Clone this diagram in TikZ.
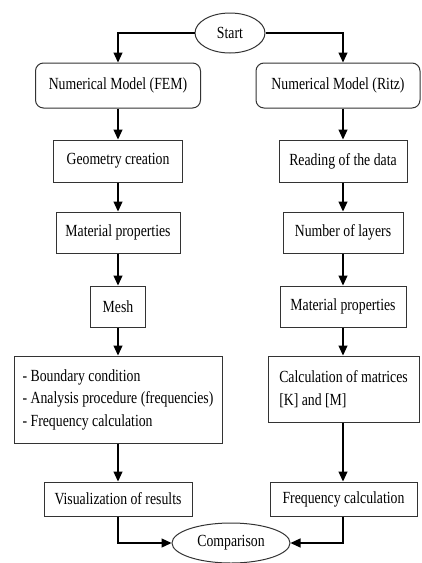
\documentclass[tikz,border=0pt]{standalone}
\usepackage{fontspec}
\setmainfont[FakeStretch=0.81]{Liberation Serif}
\usetikzlibrary{shapes.geometric,arrows.meta}
\begin{document}
\begin{tikzpicture}[x=1pt,y=-1pt,
  every node/.style={font=\fontsize{17}{22.5}\selectfont, inner sep=0pt, align=center},
  box/.style={draw=black!80, line width=1pt, rectangle},
  rbox/.style={box, rounded corners=8pt},
  oval/.style={draw=black!80, line width=1pt, ellipse},
  flow/.style={line width=1.2pt, -{Triangle[width=9pt,length=10pt]}}]
\useasboundingbox (0,0) rectangle (421,563);

% start and end ovals
\node[oval, minimum width=70, minimum height=40] (start) at (230,33) {Start};
\node[oval, minimum width=118, minimum height=40] (comp) at (231,543) {Comparison};

% FEM branch
\node[rbox, minimum width=165, minimum height=45] (fem) at (118,85.5) {Numerical Model (FEM)};
\node[box, minimum width=129, minimum height=42] (geo) at (118,161) {Geometry creation};
\node[box, minimum width=124, minimum height=41] (mat1) at (118,232.5) {Material properties};
\node[box, minimum width=55, minimum height=41] (mesh) at (118,306.5) {Mesh};
\node[box, minimum width=208, minimum height=87, align=left] (bc) at (118,399.5)
  {- Boundary condition\\- Analysis procedure (frequencies)\\- Frequency calculation};
\node[box, minimum width=148, minimum height=34] (vis) at (118,499) {Visualization of results};

% Ritz branch
\node[rbox, minimum width=164, minimum height=45] (ritz) at (338,85.5) {Numerical Model (Ritz)};
\node[box, minimum width=128, minimum height=42] (read) at (343,161) {Reading of the data};
\node[box, minimum width=120, minimum height=41] (nlay) at (343,232.5) {Number of layers};
\node[box, minimum width=126, minimum height=41] (mat2) at (343,306.5) {Material properties};
\node[box, minimum width=151, minimum height=66, align=left] (calc) at (343.5,389)
  {Calculation of matrices\\{[K]} and [M]};
\node[box, minimum width=147, minimum height=34] (freq) at (343.5,499) {Frequency calculation};

% connectors
\draw[flow] (start.west) -| (fem.north);
\draw[flow] (start.east) -| (read.north |- ritz.north);
\foreach \a/\b in {fem/geo, geo/mat1, mat1/mesh, mesh/bc, bc/vis}
  \draw[flow] (\a.south) -- (\b.north);
\foreach \a/\b in {read/nlay, nlay/mat2, mat2/calc, calc/freq}
  \draw[flow] (\a.south -| read.south) -- (\b.north -| read.north);
\draw[flow] (read.north |- ritz.south) -- (read.north);
\draw[flow] (vis.south) |- (comp.west);
\draw[flow] (freq.south -| read.south) |- (comp.east);
\end{tikzpicture}
\end{document}
